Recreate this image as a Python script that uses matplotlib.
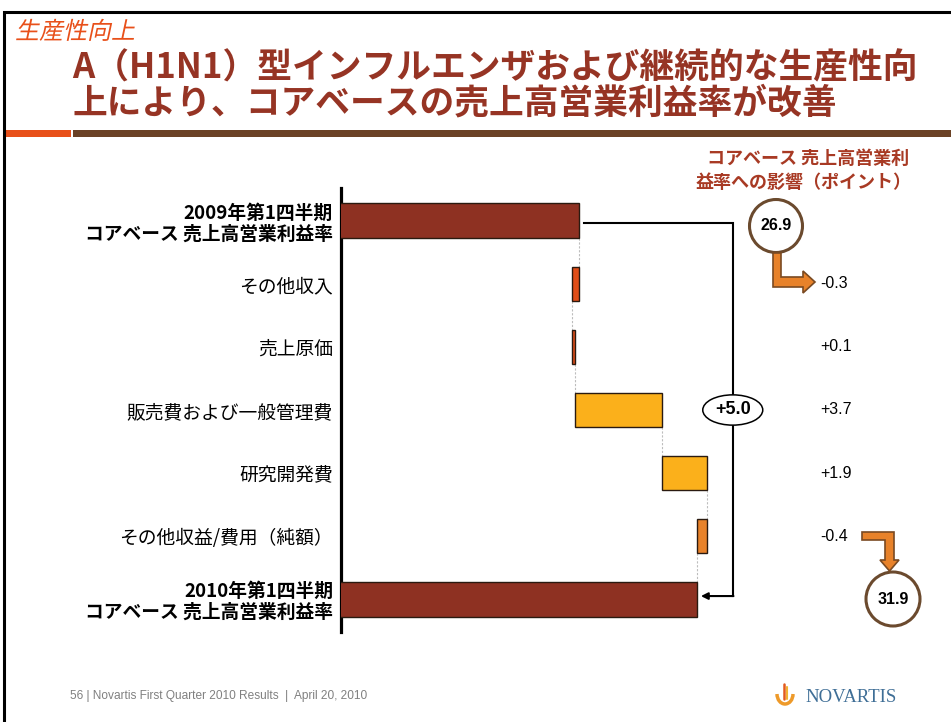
import matplotlib
matplotlib.use("Agg")
import matplotlib.pyplot as plt
from matplotlib.patches import Circle, Ellipse, Polygon, Rectangle, Arc, PathPatch
from matplotlib.textpath import TextPath
from matplotlib.font_manager import FontProperties
from matplotlib.transforms import Affine2D, blended_transform_factory

plt.rcParams['font.family'] = ['Noto Sans CJK JP', 'DejaVu Sans']

# ---------------- data ----------------
categories = ["2009年第1四半期\nコアベース 売上高営業利益率",
              "その他収入",
              "売上原価",
              "販売費および一般管理費",
              "研究開発費",
              "その他収益/費用（純額）",
              "2010年第1四半期\nコアベース 売上高営業利益率"]
start_value = 26.9
end_value = 31.9
deltas = [-0.3, 0.1, 3.7, 1.9, -0.4]
delta_colors = ["#E04E18", "#E04E18", "#FBB01B", "#FBB01B", "#E8822A"]
total_color = "#8E3122"
subtitle = "生産性向上"
title_lines = ["A（H1N1）型インフルエンザおよび継続的な生産性向",
               "上により、コアベースの売上高営業利益率が改善"]
side_header = ["コアベース 売上高営業利", "益率への影響（ポイント）"]
footer = "56 | Novartis First Quarter 2010 Results  |  April 20, 2010"

# ---------------- figure ----------------
W, H = 951, 722
fig = plt.figure(figsize=(W / 100, H / 100), dpi=100)
fig.patch.set_facecolor("white")

ax_l, ax_r, ax_t, ax_b = 341, 760, 188, 632
ax = fig.add_axes([ax_l / W, 1 - ax_b / H, (ax_r - ax_l) / W, (ax_b - ax_t) / H])
ax.patch.set_alpha(0)
xmin = 16.8
px_per_unit = 23.6
ax.set_xlim(xmin, xmin + (ax_r - ax_l) / px_per_unit)
ax.set_ylim(6.52, -0.52)

bar_h = 0.55
edge = "#2a1a10"
# totals
ax.barh(0, start_value, left=0, height=bar_h, color=total_color, edgecolor=edge, linewidth=1.0, zorder=3)
ax.barh(len(categories) - 1, end_value, left=0, height=bar_h, color=total_color, edgecolor=edge, linewidth=1.0, zorder=3)
# deltas
cum = start_value
ends = [start_value]
for i, (d, c) in enumerate(zip(deltas, delta_colors)):
    ax.barh(i + 1, d, left=cum, height=bar_h, color=c, edgecolor=edge, linewidth=1.0, zorder=3)
    cum += d
    ends.append(cum)
# connectors
for i, xv in enumerate(ends):
    ax.plot([xv, xv], [i + bar_h / 2, i + 1 - bar_h / 2], color="#bdbdbd", lw=0.8,
            linestyle=(0, (2, 1.5)), zorder=2)

ax.set_yticks(range(len(categories)))
ax.set_yticklabels(categories, fontsize=13.5, linespacing=1.1)
labels = ax.get_yticklabels()
labels[0].set_fontweight("bold")
labels[-1].set_fontweight("bold")
ax.tick_params(axis="y", length=0, pad=5.8)
ax.set_xticks([])
for s in ["top", "right", "bottom"]:
    ax.spines[s].set_visible(False)
ax.spines["left"].set_linewidth(2.3)
ax.spines["left"].set_color("black")

# bracket with total change
br_x = end_value + 1.5
last = len(categories) - 1
ax.plot([start_value + 0.2, br_x, br_x], [0.03, 0.03, last - 0.05], color="black", lw=1.5, zorder=2,
        solid_joinstyle="miter", clip_on=False)
ax.annotate("", xy=(end_value + 0.15, last - 0.05), xytext=(br_x + 0.03, last - 0.05),
            arrowprops=dict(arrowstyle="-|>", color="black", lw=1.5, mutation_scale=10,
                            shrinkA=0, shrinkB=0), zorder=2)
ax.add_patch(Ellipse((br_x, 3), 60 / px_per_unit, 0.48, facecolor="white", edgecolor="black",
                     lw=1.1, zorder=4, clip_on=False))
ax.text(br_x, 3, f"{end_value - start_value:+.1f}", ha="center", va="center", fontsize=13,
        fontweight="bold", family="Liberation Sans", zorder=5, clip_on=False)

# ---------------- overlay (pixel coordinates) ----------------
ov = fig.add_axes([0, 0, 1, 1])
ov.set_xlim(0, W)
ov.set_ylim(H, 0)
ov.axis("off")
ov.patch.set_alpha(0)

# frame
ov.plot([4, 4, W], [H, 12, 12], color="black", lw=2.2, solid_joinstyle="miter")
ov.add_patch(Rectangle((6, 130), 65, 7, facecolor="#E8501A", edgecolor="none"))
ov.add_patch(Rectangle((73, 130), W - 73, 7, facecolor="#6B4226", edgecolor="none"))

# italic subtitle
tp = TextPath((0, 0), subtitle, size=24, prop=FontProperties(family="Noto Sans CJK JP"))
tr = Affine2D().skew_deg(12, 0).scale(1, -1).translate(15, 39) + ov.transData
ov.add_patch(PathPatch(tp, transform=tr, facecolor="#E8501A", edgecolor="none"))

# title
title_color = "#963424"
ov.text(72, 68, title_lines[0], fontsize=25, fontweight="bold", color=title_color, va="center", ha="left")
ov.text(72, 103, title_lines[1], fontsize=25, fontweight="bold", color=title_color, va="center", ha="left")

# side header
ov.text(808, 158, side_header[0], fontsize=13, fontweight="bold", color="#A83A24", ha="center", va="center")
ov.text(804, 182, side_header[1], fontsize=13, fontweight="bold", color="#A83A24", ha="center", va="center")

# values column
bt = blended_transform_factory(ov.transData, ax.transData)
for i, d in enumerate(deltas):
    ax.text(820, i + 1, f"{d:+.1f}", transform=bt, fontsize=11.5,
            family="Liberation Sans", ha="left", va="center", clip_on=False)

# circles
circ_edge = "#6B4A2E"
ov.add_patch(Circle((776, 226), 26.5, facecolor="white", edgecolor=circ_edge, lw=2.2))
ov.text(776, 226, f"{start_value:.1f}", fontsize=11.5, fontweight="bold", family="Liberation Sans",
        ha="center", va="center")
ov.add_patch(Circle((893, 599), 27, facecolor="white", edgecolor=circ_edge, lw=2.2))
ov.text(893, 599, f"{end_value:.1f}", fontsize=11.5, fontweight="bold", family="Liberation Sans",
        ha="center", va="center")

arrow_fill = "#E8822A"
arrow_edge = "#7A4A22"
ov.add_patch(Polygon([(773, 253), (781, 253), (781, 277), (803, 277), (803, 271), (815, 282),
                      (803, 293), (803, 287), (773, 287)], closed=True,
                     facecolor=arrow_fill, edgecolor=arrow_edge, lw=1.2, joinstyle="miter"))
ov.add_patch(Polygon([(862, 532), (894, 532), (894, 560), (899, 560), (889.5, 571), (880, 560),
                      (885, 560), (885, 540), (862, 540)], closed=True,
                     facecolor=arrow_fill, edgecolor=arrow_edge, lw=1.2, joinstyle="miter"))

# footer
ov.text(70, 696, footer, fontsize=8.6, color="#808080", family="Liberation Sans", ha="left", va="center")
# logo
ov.add_patch(Arc((785, 694), 16, 20, theta1=0, theta2=180, color="#EE9A2A", lw=2.5))
ov.plot([783.5, 783.5], [684, 699], color="#E35A1E", lw=1.8, solid_capstyle="round")
ov.plot([787, 787], [687, 699], color="#F2B233", lw=1.5, solid_capstyle="round")
ov.text(805, 697, "NOVARTIS", fontsize=13.5, family="Liberation Serif", color="#3F6E96",
        ha="left", va="center")

fig.savefig("out.png", dpi=100)
